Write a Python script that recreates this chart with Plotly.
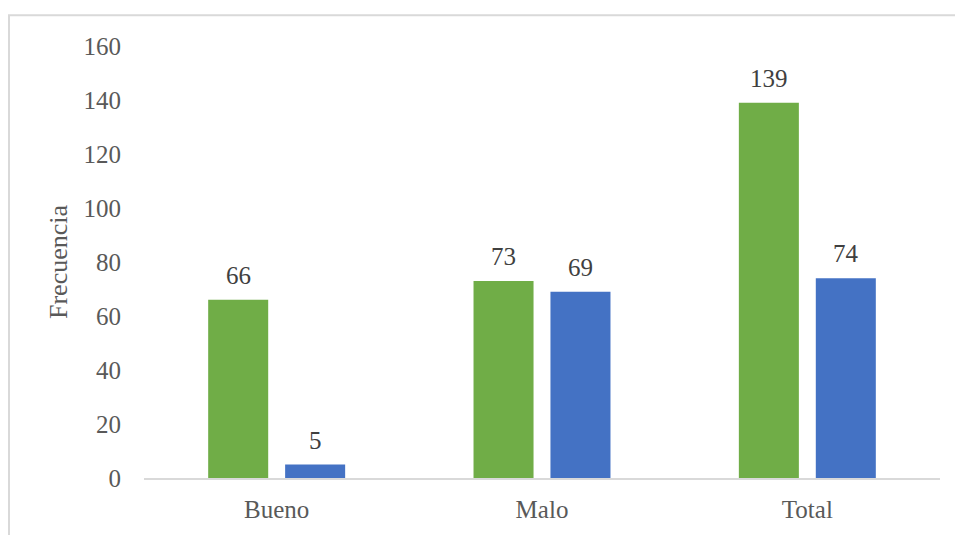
import plotly.graph_objects as go

categories = ["Bueno", "Malo", "Total"]
serie_verde = [66, 73, 139]
serie_azul = [5, 69, 74]
y_ticks = [0, 20, 40, 60, 80, 100, 120, 140, 160]

FONT = "Liberation Serif, Times New Roman, serif"
FS = 25

L, R, T, B = 144, 15, 46, 55
W, H = 955, 535
pw = W - L - R
ph = H - T - B

BARGAP = 0.42
GROUPGAP = 0.22

fig = go.Figure()
fig.add_trace(go.Bar(x=categories, y=serie_verde, name="Serie 1",
                     marker=dict(color="#70AD47", line=dict(width=0))))
fig.add_trace(go.Bar(x=categories, y=serie_azul, name="Serie 2",
                     marker=dict(color="#4472C4", line=dict(width=0))))

# data labels above bars
slot_px = pw / len(categories) * (1 - BARGAP) / 2
for k, vals in enumerate([serie_verde, serie_azul]):
    shift = (k - 0.5) * slot_px
    for c, v in zip(categories, vals):
        fig.add_annotation(x=c, y=v, text=str(v), showarrow=False,
                           xshift=shift, yshift=9, yanchor="bottom",
                           font=dict(family=FONT, size=FS, color="#404040"))

fig.update_layout(
    width=W, height=H,
    margin=dict(l=L, r=R, t=T, b=B, pad=0),
    paper_bgcolor="white", plot_bgcolor="white",
    barmode="group", bargap=BARGAP, bargroupgap=GROUPGAP,
    showlegend=False,
    font=dict(family=FONT, size=FS, color="#595959"),
    xaxis=dict(showgrid=False, showline=True, linecolor="#d9d9d9", linewidth=2,
               ticks="", ticklabelstandoff=8,
               tickfont=dict(family=FONT, size=FS, color="#595959")),
    yaxis=dict(range=[0, 160], tickvals=y_ticks, showgrid=False, showline=False,
               zeroline=False, ticks="", ticklabelstandoff=22,
               tickfont=dict(family=FONT, size=FS, color="#595959"),
               title=dict(text="Frecuencia", standoff=8,
                          font=dict(family=FONT, size=26, color="#595959"))),
)

# chart-area border (extends beyond the visible frame at right and bottom)
fig.add_shape(type="rect", xref="paper", yref="paper",
              x0=(9 - L) / pw, x1=(W + 10 - L) / pw,
              y0=-(B + 10) / ph, y1=(H - B - 15) / ph,
              line=dict(color="#d9d9d9", width=2), fillcolor="rgba(0,0,0,0)", layer="below")

fig.write_html("out.html")
